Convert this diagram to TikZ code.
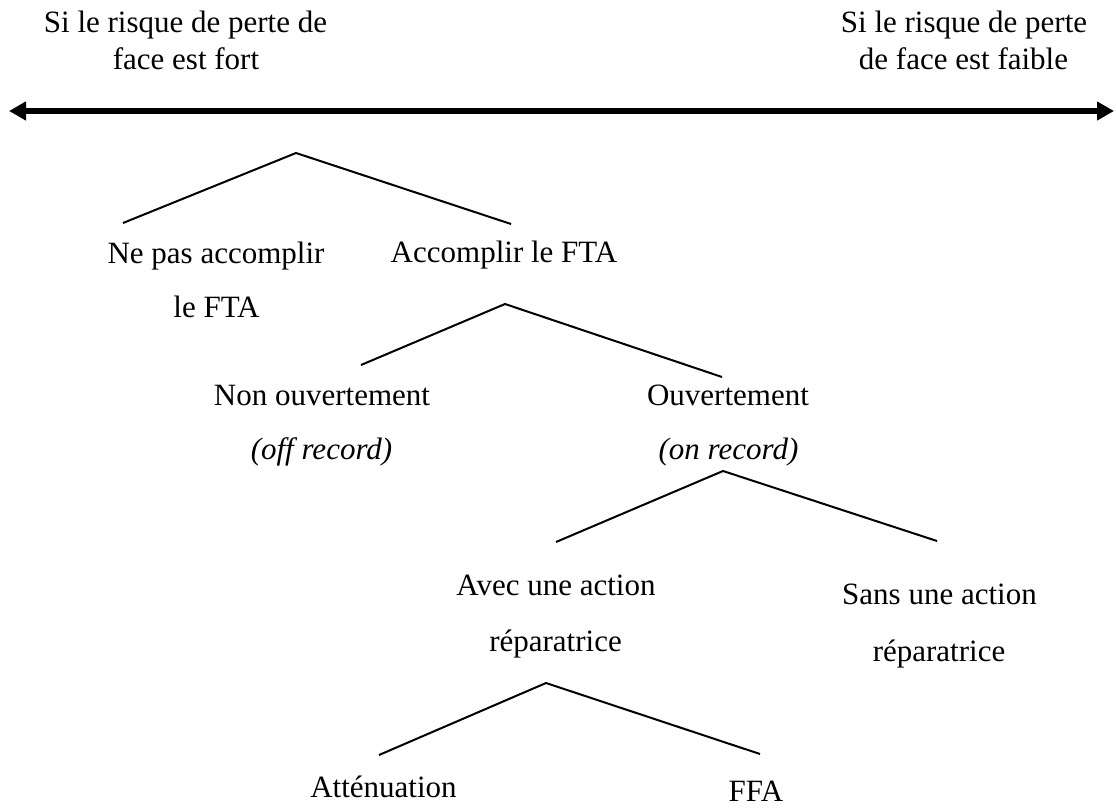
\documentclass[tikz,border=0pt]{standalone}
\usepackage{fontspec}
\setmainfont{Liberation Serif}
\usetikzlibrary{arrows.meta}
\begin{document}
\begin{tikzpicture}[x=1pt,y=-1pt,
  lbl/.style={inner sep=0pt, anchor=base, font=\fontsize{31}{37}\selectfont},
  ilbl/.style={lbl, font=\fontsize{31}{37}\selectfont\itshape},
  branch/.style={line width=2pt, line join=miter, line cap=butt},
  axis/.style={line width=5.5pt, {Triangle[length=17pt,width=18pt]}-{Triangle[length=17pt,width=18pt]}}]
\useasboundingbox (0,0) rectangle (1116,808);
% top labels
\node[lbl] (tl1) at (185.5,33) {Si le risque de perte de};
\node[lbl] (tl2) at (186,70) {face est fort};
\node[lbl] (tr1) at (964,33) {Si le risque de perte};
\node[lbl] (tr2) at (963.5,70) {de face est faible};
% axis
\coordinate (aL) at (9,111);
\coordinate (aR) at (1114,111);
\draw[axis] (aL) -- (aR);
% tree labels
\node[lbl] (n1a) at (216,263) {Ne pas accomplir};
\node[lbl] (n1b) at (216.5,317) {le FTA};
\node[lbl] (n2) at (504,262) {Accomplir le FTA};
\node[lbl] (n3a) at (322,405) {Non ouvertement};
\node[ilbl] (n3b) at (321.5,459) {(off record)};
\node[lbl] (n4a) at (728,405) {Ouvertement};
\node[ilbl] (n4b) at (728.5,459) {(on record)};
\node[lbl] (n5a) at (556,595) {Avec une action};
\node[lbl] (n5b) at (555.5,651) {réparatrice};
\node[lbl] (n6a) at (939.5,604) {Sans une action};
\node[lbl] (n6b) at (939,661) {réparatrice};
\node[lbl] (n7) at (383.5,797) {Atténuation};
\node[lbl] (n8) at (756,801) {FFA};
% branch points
\coordinate (r1) at (296,153);
\coordinate (r1L) at (123,223);
\coordinate (r1R) at (511,224);
\coordinate (r2) at (505,304);
\coordinate (r2L) at (361,365);
\coordinate (r2R) at (722,377);
\coordinate (r3) at (723,471);
\coordinate (r3L) at (556,542);
\coordinate (r3R) at (937,541);
\coordinate (r4) at (546,683);
\coordinate (r4L) at (379,755);
\coordinate (r4R) at (760,754);
\draw[branch] (r1L) -- (r1) -- (r1R);
\draw[branch] (r2L) -- (r2) -- (r2R);
\draw[branch] (r3L) -- (r3) -- (r3R);
\draw[branch] (r4L) -- (r4) -- (r4R);
\end{tikzpicture}
\end{document}
